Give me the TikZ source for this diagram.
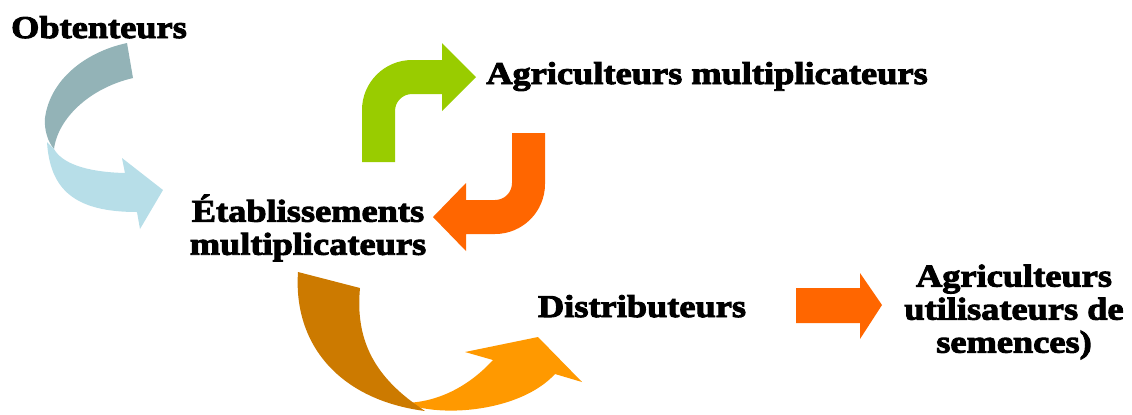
\documentclass[tikz,border=0pt]{standalone}
\usepackage{fontspec}
\newfontfamily\lblfont{Liberation Serif Bold}[FakeBold=3,FakeStretch=1.15]
\definecolor{obtgray}{HTML}{93B3B7}
\definecolor{obtblue}{HTML}{B7DEE8}
\definecolor{agrgreen}{HTML}{99CC00}
\definecolor{agrorange}{HTML}{FF6600}
\definecolor{disdark}{HTML}{CC7A00}
\definecolor{dislight}{HTML}{FF9900}
\tikzset{lbl/.style={font=\lblfont\fontsize{18}{18.8}\selectfont, align=center, inner sep=0pt}}

\begin{document}
\begin{tikzpicture}[x=0.02cm, y=-0.02cm]
      \useasboundingbox (0,0) rectangle (1132,414);

      \node[lbl, anchor=base] (obt) at (99,38) {Obtenteurs};
      \node[lbl, anchor=base] (agm) at (707,84) {Agriculteurs multiplicateurs};
      \node[lbl] (etm) at (308,228) {Établissements\\multiplicateurs};
      \node[lbl, anchor=base] (dis) at (642,317) {Distributeurs};
      \node[lbl] (agu) at (1014,312) {Agriculteurs\\utilisateurs de\\semences)};

      \fill[obtgray] (127,43) .. controls (85,52) and (50,80) .. (45,118)
        .. controls (44,130) and (48,142) .. (54,149)
        .. controls (58,118) and (90,88) .. (133,78) -- cycle;
      \fill[obtblue] (47,142) .. controls (50,190) and (75,212) .. (137,212)
        -- (140,229) -- (163,190) -- (122,158) -- (125,173)
        .. controls (85,172) and (62,163) .. (54,149) -- cycle;

      \fill[agrgreen] (362,162) -- (362,110) .. controls (362,82.4) and (384.4,60) .. (412,60)
        -- (442,60) -- (442,43) -- (476,77) -- (442,111) -- (442,94) -- (412,94)
        .. controls (402.6,94) and (395,101.6) .. (395,111) -- (395,162) -- cycle;

      \fill[agrorange] (512,133) -- (545,133) -- (545,184) .. controls (545,211.6) and (522.6,234) .. (495,234)
        -- (466,234) -- (466,251) -- (433,217) -- (466,183) -- (466,200) -- (495,200)
        .. controls (504.4,200) and (512,192.4) .. (512,183) -- cycle;

      \fill[dislight] (405,403) .. controls (440,418) and (520,412) .. (555,374)
        -- (582,382) -- (538,337) -- (465,352) -- (493,360)
        .. controls (470,385) and (440,402) .. (405,403) -- cycle;
      \fill[disdark] (298,272) -- (360,288) .. controls (355,340) and (375,375) .. (415,404)
        -- (425,411) .. controls (340,400) and (293,345) .. (298,272) -- cycle;

      \fill[agrorange] (796,288) -- (860,288) -- (860,273) -- (882,305) -- (860,339) -- (860,323) -- (796,323) -- cycle;
    \end{tikzpicture}
\end{document}
